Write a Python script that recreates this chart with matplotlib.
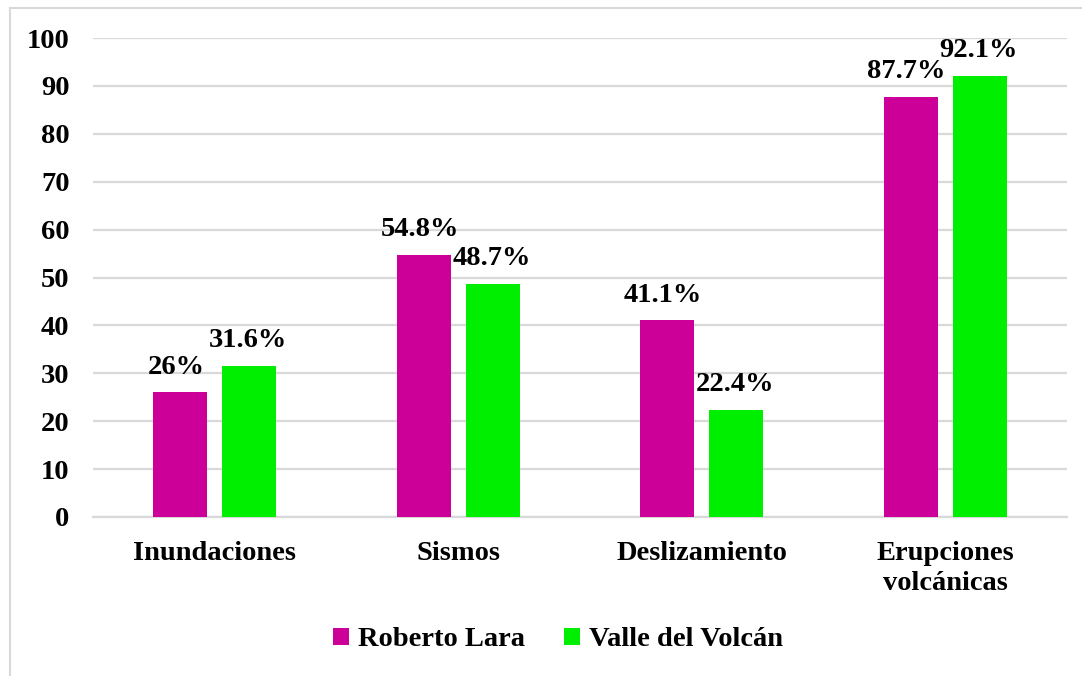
import numpy as np
import matplotlib
matplotlib.use("Agg")
import matplotlib.pyplot as plt
from matplotlib.lines import Line2D

categorias = ["Inundaciones", "Sismos", "Deslizamiento", "Erupciones\nvolcánicas"]
roberto_lara = [26, 54.8, 41.1, 87.7]
valle_volcan = [31.6, 48.7, 22.4, 92.1]
etiquetas_rl = ["26%", "54.8%", "41.1%", "87.7%"]
etiquetas_vv = ["31.6%", "48.7%", "22.4%", "92.1%"]
series = ["Roberto Lara", "Valle del Volcán"]

plt.rcParams['font.family'] = ['Liberation Serif', 'DejaVu Serif']
plt.rcParams['font.weight'] = 'bold'
fs = 20.5

fig = plt.figure(figsize=(10.82, 6.76), dpi=100)
ax = fig.add_axes([93/1082, 1-517/676, (1067-93)/1082, (517-38)/676])

x = np.arange(len(categorias))
w = 0.222
off = 0.142
b1 = ax.bar(x - off, roberto_lara, w, color="#CC0099", label=series[0], zorder=3)
b2 = ax.bar(x + off, valle_volcan, w, color="#00EE00", label=series[1], zorder=3)

for rect, lab in zip(b1, etiquetas_rl):
    ax.annotate(lab, (rect.get_x() + rect.get_width()/2, rect.get_height()),
                xytext=(-3, 9), textcoords="offset points", ha="center", va="bottom",
                fontsize=fs, fontweight="bold")
for rect, lab in zip(b2, etiquetas_vv):
    ax.annotate(lab, (rect.get_x() + rect.get_width()/2, rect.get_height()),
                xytext=(-1, 9), textcoords="offset points", ha="center", va="bottom",
                fontsize=fs, fontweight="bold")

ax.set_xlim(-0.5, 3.5)
ax.set_ylim(0, 100)
ax.set_yticks(range(0, 101, 10))
ax.set_xticks(x)
ax.set_xticklabels(categorias, fontsize=fs, fontweight="bold", linespacing=1.3)
ax.tick_params(axis="y", length=0, pad=17, labelsize=fs)
ax.tick_params(axis="x", length=0, pad=17)
ax.yaxis.grid(True, color="#D9D9D9", linewidth=1.6, zorder=0)
for s in ["top", "right", "left"]:
    ax.spines[s].set_visible(False)
ax.spines["bottom"].set_color("#D9D9D9")
ax.spines["bottom"].set_linewidth(1.6)

fig.legend(loc="center", bbox_to_anchor=(558/1082, 1-640/676), ncol=2, frameon=False,
           prop={"size": fs, "weight": "bold"}, handlelength=0.55, handleheight=0.55,
           handletextpad=0.3, columnspacing=1.4)

# borde exterior
fig.add_artist(Line2D([10/1082, 10/1082], [0, 1-8/676], color="#D9D9D9", lw=1.5))
fig.add_artist(Line2D([10/1082, 1], [1-8/676, 1-8/676], color="#D9D9D9", lw=1.5))

fig.savefig("out.png", dpi=100)
